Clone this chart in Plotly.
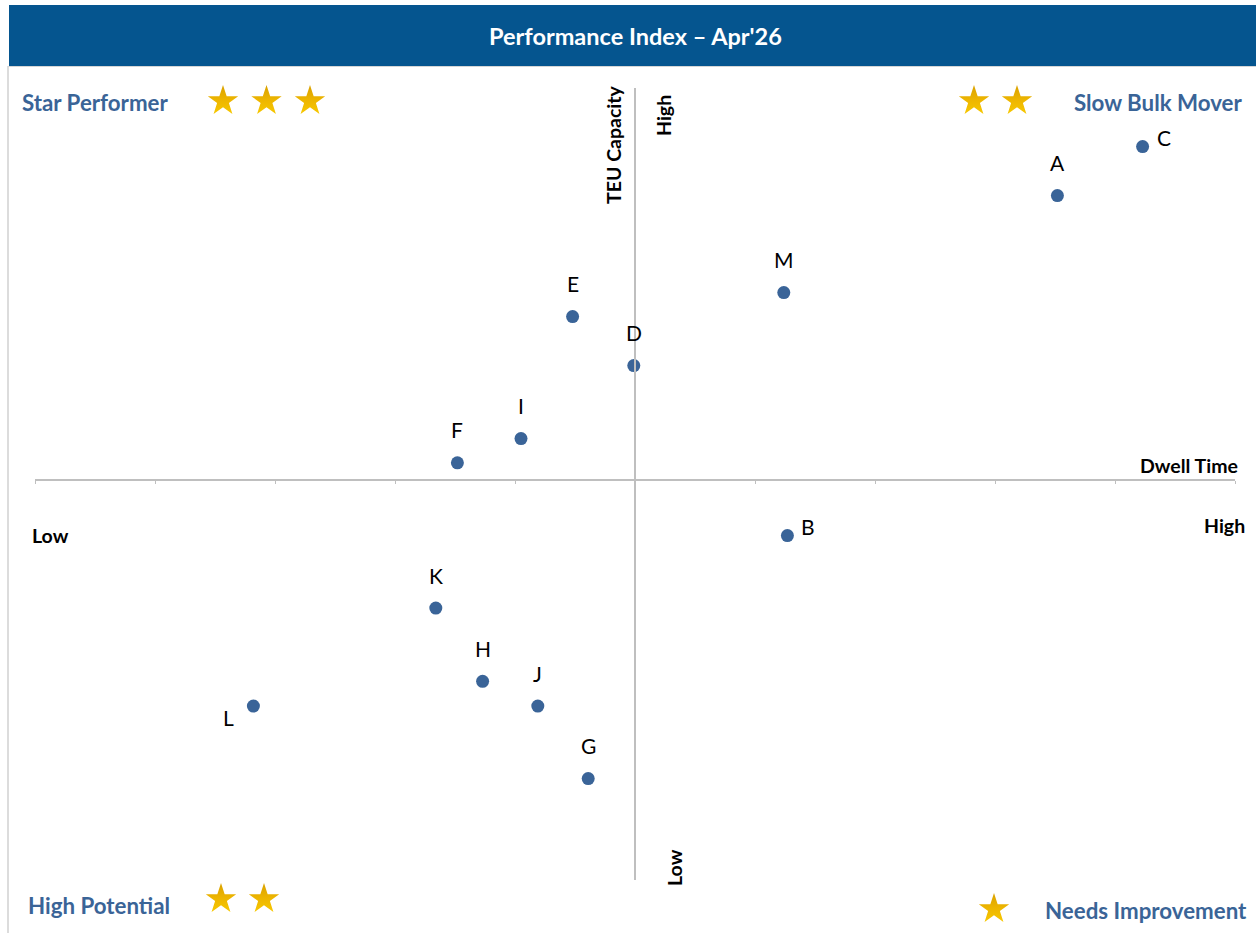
import base64
import plotly.graph_objects as go

W, H = 1256, 933

# Ports plotted on the performance matrix
names = ["A", "B", "C", "D", "E", "F", "G", "H", "I", "J", "K", "L", "M"]
dwell_time = [3.52, 1.27, 4.23, -0.01, -0.52, -1.48, -0.39, -1.27, -0.95, -0.81, -1.66, -3.18, 1.24]
teu_capacity = [11.61, -2.27, 13.61, 4.67, 6.67, 0.70, -12.19, -8.22, 1.69, -9.23, -5.23, -9.23, 7.65]
label_side = ["above", "right", "right", "above", "above", "above", "above",
              "above", "above", "above", "above", "below_left", "above"]

title_text = "Performance Index \u2013 Apr'26"
quadrants = ["Star Performer", "Slow Bulk Mover", "High Potential", "Needs Improvement"]
quadrant_stars = [3, 2, 2, 1]

HEADER = "#05558F"
QUAD_COLOR = "#3A6497"
POINT_COLOR = "#3A6498"
AXIS_GREY = "#BFBFBF"
FONT = "Lato"


def px(x):
    return x / W


def py(y):
    return 1 - y / H


fig = go.Figure()

fig.add_trace(go.Scatter(
    x=dwell_time, y=teu_capacity, mode="markers",
    marker=dict(size=13, color=POINT_COLOR),
    hovertext=names, hoverinfo="text", showlegend=False, cliponaxis=False,
))

label_style = {
    "above": dict(xanchor="center", yanchor="middle", xshift=0, yshift=33),
    "right": dict(xanchor="left", yanchor="middle", xshift=12, yshift=9),
    "below_left": dict(xanchor="right", yanchor="middle", xshift=-17, yshift=-11),
}

annotations = []
for n, xv, yv, side in zip(names, dwell_time, teu_capacity, label_side):
    annotations.append(dict(
        x=xv, y=yv, xref="x", yref="y", text=n, showarrow=False,
        font=dict(family=FONT, size=21, color="#000000"), **label_style[side]))

# Header title
annotations.append(dict(
    x=px(635), y=py(36), xref="paper", yref="paper", text=f"<b>{title_text}</b>",
    showarrow=False, xanchor="center", yanchor="middle",
    font=dict(family=FONT, size=23.5, color="#FFFFFF")))

# Quadrant names
quad_pos = [
    (20, 103, "left"), (1245, 103, "right"), (26, 905, "left"), (1249, 910, "right"),
]
for name, (qx, qy, anchor) in zip(quadrants, quad_pos):
    annotations.append(dict(
        x=px(qx), y=py(qy), xref="paper", yref="paper", text=f"<b>{name}</b>",
        showarrow=False, xanchor=anchor, yanchor="middle",
        font=dict(family=FONT, size=22.3, color=QUAD_COLOR)))

# Axis captions
axis_font = dict(family=FONT, size=19.5, color="#000000")
annotations += [
    dict(x=px(614), y=py(145), text="<b>TEU Capacity</b>", textangle=-90),
    dict(x=px(663), y=py(116), text="<b>High</b>", textangle=-90),
    dict(x=px(674), y=py(868), text="<b>Low</b>", textangle=-90),
    dict(x=px(1240), y=py(466), text="<b>Dwell Time</b>", xanchor="right"),
    dict(x=px(30), y=py(535), text="<b>Low</b>", xanchor="left"),
    dict(x=px(1247), y=py(525), text="<b>High</b>", xanchor="right"),
]
for a in annotations[-6:]:
    a.update(xref="paper", yref="paper", showarrow=False, yanchor="middle", font=axis_font)
    a.setdefault("xanchor", "center")

# Gold gradient star used for the rating badges
star_svg = (
    '<svg xmlns="http://www.w3.org/2000/svg" width="100" height="100" viewBox="0 0 100 100">'
    '<defs><linearGradient id="g" x1="0" y1="0" x2="0" y2="1">'
    '<stop offset="0" stop-color="#D9A100"/><stop offset="0.5" stop-color="#EDB500"/>'
    '<stop offset="1" stop-color="#F7C800"/></linearGradient></defs>'
    '<polygon fill="url(#g)" points="50,2 61.8,37.6 99,37.6 69,59.6 80.4,95 50,73 19.6,95 31,59.6 1,37.6 38.2,37.6"/>'
    '</svg>'
)
star_src = "data:image/svg+xml;base64," + base64.b64encode(star_svg.encode()).decode()

star_rows = [
    (223, 100, 43.5), (974, 100, 43), (221, 898, 43), (994, 908, 43),
]
images = []
for count, (sx, sy, step) in zip(quadrant_stars, star_rows):
    for k in range(count):
        images.append(dict(
            source=star_src, xref="paper", yref="paper",
            x=px(sx + k * step), y=py(sy), sizex=31 / W, sizey=31 / H,
            xanchor="center", yanchor="middle", sizing="contain", layer="above"))

shapes = [
    # header band
    dict(type="rect", xref="paper", yref="paper", x0=px(9), x1=px(1256), y0=py(66), y1=py(5),
         fillcolor=HEADER, line=dict(width=0), layer="below"),
    # chart frame
    dict(type="line", xref="paper", yref="paper", x0=px(8), x1=px(8), y0=py(66), y1=py(933),
         line=dict(color="#D0D0D0", width=1.5)),
    dict(type="line", xref="paper", yref="paper", x0=px(8), x1=px(1256), y0=py(66.5), y1=py(66.5),
         line=dict(color="#D6D6D6", width=1)),
]

fig.update_layout(
    width=W, height=H, autosize=False,
    margin=dict(l=0, r=0, t=0, b=0),
    paper_bgcolor="#FFFFFF", plot_bgcolor="rgba(0,0,0,0)",
    xaxis=dict(
        domain=[px(35), px(1235)], range=[-5, 5], dtick=1, tick0=0,
        anchor="free", position=py(479.5),
        showline=True, linecolor=AXIS_GREY, linewidth=2,
        ticks="outside", ticklen=3, tickwidth=1, tickcolor=AXIS_GREY,
        showticklabels=False, showgrid=False, zeroline=False, fixedrange=True,
    ),
    yaxis=dict(
        domain=[py(880), py(88)], range=[-16.33, 16.0],
        anchor="free", position=px(635),
        showline=True, linecolor=AXIS_GREY, linewidth=2,
        ticks="", showticklabels=False, showgrid=False, zeroline=False, fixedrange=True,
    ),
    annotations=annotations,
    images=images,
    shapes=shapes,
    font=dict(family=FONT),
)

fig.write_html("out.html", config={"displayModeBar": False})
